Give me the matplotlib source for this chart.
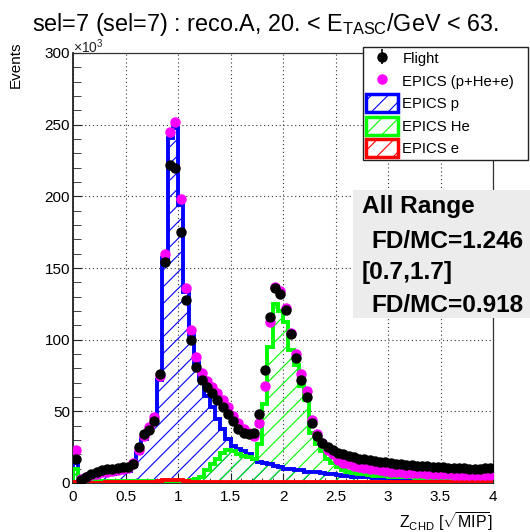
import numpy as np
import matplotlib
matplotlib.use('Agg')
import matplotlib.pyplot as plt
from matplotlib.patches import Rectangle, Patch
from matplotlib.lines import Line2D
from matplotlib.ticker import MultipleLocator

plt.rcParams['font.family'] = ['Liberation Sans', 'DejaVu Sans']
plt.rcParams['mathtext.fontset'] = 'custom'
plt.rcParams['mathtext.rm'] = 'Liberation Sans'
plt.rcParams['mathtext.it'] = 'Liberation Sans:italic'
plt.rcParams['mathtext.bf'] = 'Liberation Sans:bold'
plt.rcParams['hatch.linewidth'] = 0.8

# Z_CHD bins (0 - 4, width 0.05), counts in units of 10^3
edges = np.linspace(0, 4, 81)

flight = [17, 2, 4, 6, 7.5, 9, 10, 10, 10.5, 11,
          11.5, 13, 25, 34, 37, 43, 76, 154, 222, 220,
          175, 128, 100, 81, 72, 67, 63, 58, 53, 48,
          43, 38, 35, 34, 35, 48, 79, 116, 136, 132,
          121, 104, 87, 72, 60, 42, 33, 28, 25, 23,
          21, 20, 19, 18, 17, 16.5, 16, 15.5, 15, 14.5,
          14, 13.5, 13, 12.8, 12.5, 12.2, 12, 11.8, 11.5, 11.2,
          11, 10.8, 10.5, 10.3, 10.2, 10, 10, 10, 10.3, 10.8]

epics_all = [23, 2.5, 4, 5.5, 6.5, 7.5, 8, 8.5, 9, 9.5,
             10.5, 14, 23, 33, 39, 46, 75, 160, 245, 252,
             198, 136, 107, 88, 77, 71, 67, 63, 58, 53,
             47, 42, 38, 35, 33, 42, 68, 112, 137, 134,
             122, 105, 90, 76, 64, 44, 34, 28, 23, 20,
             16, 14, 13, 12, 11, 10.5, 10, 9.5, 9, 8.5,
             8, 7.8, 7.5, 7.3, 7.1, 7, 6.8, 6.6, 6.4, 6.3,
             6.1, 6, 5.9, 5.8, 5.7, 5.6, 5.5, 5.5, 5.6, 5.8]

epics_p = [14, 1.5, 2.5, 3.5, 4.5, 5.5, 6, 6.5, 7, 7.5,
           8.5, 12, 21, 31, 37, 44, 72, 157, 241, 248,
           194, 133, 103, 84, 72, 61, 53, 45, 38, 31,
           26, 24, 22, 20, 17, 15, 14, 13, 12, 11,
           10, 10, 9, 9, 8, 8, 7.5, 7, 6.5, 6,
           5.5, 5, 5, 4.5, 4.5, 4, 4, 3.8, 3.6, 3.4,
           3.2, 3, 3, 2.9, 2.8, 2.7, 2.6, 2.5, 2.4, 2.4,
           2.3, 2.2, 2.2, 2.1, 2.1, 2, 2, 2, 2, 2]

epics_he = [10, 1.5, 1.5, 1.5, 1.5, 1.5, 1.5, 1.5, 1.5, 1.5,
            1.5, 1.5, 1.5, 1.5, 1.5, 1.5, 1.5, 1.5, 1.5, 1.5,
            1.5, 1.5, 2, 2.5, 4, 9, 13, 17, 21, 23,
            22, 20, 19, 18, 17, 27, 55, 95, 125, 120,
            112, 93, 82, 68, 58, 35, 27, 22, 17, 14,
            11, 9, 8, 7, 6.5, 6, 5.5, 5.2, 5, 4.8,
            4.5, 4.3, 4.1, 4, 3.9, 3.8, 3.7, 3.6, 3.5, 3.4,
            3.3, 3.2, 3.1, 3.1, 3, 3, 2.9, 2.9, 2.9, 3]

epics_e = [0.5, 0.3, 0.3, 0.3, 0.3, 0.3, 0.4, 0.4, 0.4, 0.4,
           0.5, 0.5, 0.6, 0.7, 0.8, 1.0, 1.2, 1.8, 2.0, 2.0,
           1.8, 1.2, 1.0, 0.8, 0.8, 0.7, 0.7, 0.7, 0.6, 0.6,
           0.6, 0.6, 0.5, 0.5, 0.5, 0.5, 0.5, 0.5, 0.5, 0.5,
           0.5, 0.5, 0.5, 0.5, 0.5, 0.5, 0.5, 0.5, 0.5, 0.5,
           0.5, 0.5, 0.5, 0.5, 0.5, 0.5, 0.5, 0.5, 0.5, 0.4,
           0.4, 0.4, 0.4, 0.4, 0.4, 0.4, 0.4, 0.4, 0.4, 0.4,
           0.4, 0.4, 0.4, 0.4, 0.4, 0.4, 0.4, 0.4, 0.4, 0.4]

xticks = [0, 0.5, 1, 1.5, 2, 2.5, 3, 3.5, 4]
xtick_labels = ['0', '0.5', '1', '1.5', '2', '2.5', '3', '3.5', '4']
yticks = [0, 50, 100, 150, 200, 250, 300]

centers = 0.5 * (edges[1:] + edges[:-1])

W, H = 530, 532
fig = plt.figure(figsize=(W / 100, H / 100), dpi=100)
ax = fig.add_axes([73 / W, 1 - 483 / H, 420 / W, 430 / H])

ax.grid(True, which='major', color='#333333', linestyle=(0, (1, 2.5)), linewidth=0.8)
ax.set_axisbelow(True)

BLUE = '#0000ff'
GREEN = '#00ff00'
RED = '#ff0000'
MAG = '#ff00ff'

for vals, col in [(epics_p, BLUE), (epics_he, GREEN), (epics_e, RED)]:
    ax.stairs(vals, edges, fill=True, facecolor='none', edgecolor=col,
              hatch='//', linewidth=0, zorder=2)
    ax.stairs(vals, edges, color=col, linewidth=2.8, zorder=3)

ax.plot(centers, epics_all, 'o', color=MAG, markersize=6.5, zorder=4)
ax.errorbar(centers, flight, yerr=np.zeros(len(flight)), fmt='o', color='k',
            markersize=6.5, elinewidth=1.2, zorder=5)

ax.set_xlim(0, 4)
ax.set_ylim(0, 300)
ax.set_xticks(xticks)
ax.set_xticklabels(xtick_labels)
ax.set_yticks(yticks)
ax.xaxis.set_minor_locator(MultipleLocator(0.1))
ax.yaxis.set_minor_locator(MultipleLocator(10))
ax.tick_params(which='both', direction='in', top=False, right=False,
               labelsize=11, color='#222222')
ax.tick_params(axis='x', which='major', length=7, pad=5)
ax.tick_params(axis='x', which='minor', length=3.5)
ax.tick_params(axis='y', which='major', length=6.5, pad=2)
ax.tick_params(axis='y', which='minor', length=5.5)
for s in ['left', 'bottom']:
    ax.spines[s].set_linewidth(1.3)
    ax.spines[s].set_color('#222222')
for s in ['top', 'right']:
    ax.spines[s].set_linewidth(0.9)
    ax.spines[s].set_color('#333333')

# texts
fig.text(0.5, 1 - 31 / H, r'sel=7 (sel=7) : reco.A, 20. < E$_{\rm TASC}$/GeV < 63.',
         ha='center', va='baseline', fontsize=16.8)
fig.text(73 / W, 1 - 47 / H, r'$\times10^{3}$', ha='left', va='center', fontsize=10,
         color='#222222')
fig.text(16 / W, 1 - 42 / H, 'Events', rotation=90, ha='center', va='top', fontsize=11)
fig.text(493 / W, 1 - 522 / H, r'Z$_{\rm CHD}$ [$\sqrt{\rm MIP}$]', ha='right',
         va='center', fontsize=11.5)

# legend
handles = [
    ax.errorbar([], [], yerr=[], fmt='o', color='k', markersize=6.5, elinewidth=1.2),
    Line2D([], [], marker='o', color=MAG, linestyle='none', markersize=6.5),
    Patch(facecolor='white', edgecolor=BLUE, hatch='//', linewidth=2.5),
    Patch(facecolor='white', edgecolor=GREEN, hatch='//', linewidth=2.5),
    Patch(facecolor='white', edgecolor=RED, hatch='//', linewidth=2.5),
]
labels = ['Flight', 'EPICS (p+He+e)', 'EPICS p', 'EPICS He', 'EPICS e']
leg = fig.legend(handles, labels, loc='upper left',
                 bbox_to_anchor=(363 / W, 1 - 52 / H, 165 / W, 0.01), mode='expand',
                 fontsize=10.7, frameon=True, fancybox=False, framealpha=1,
                 edgecolor='#222222', borderpad=0.2, labelspacing=0.32,
                 handlelength=2.15, handleheight=1.45, handletextpad=0.3,
                 borderaxespad=0)
leg.get_frame().set_linewidth(1.0)

# stats box
fig.patches.append(Rectangle((353 / W, 1 - 318 / H), 177 / W, 128 / H,
                             transform=fig.transFigure, facecolor='#ececec',
                             edgecolor='none', zorder=3))
for txt, x, y in [('All Range', 362, 206), ('FD/MC=1.246', 371, 242),
                  ('[0.7,1.7]', 362, 273), ('FD/MC=0.918', 371, 305)]:
    fig.text(x / W, 1 - y / H, txt, ha='left', va='center', fontsize=17.6,
             fontweight='bold', zorder=4)

fig.savefig('out.png', dpi=100)
